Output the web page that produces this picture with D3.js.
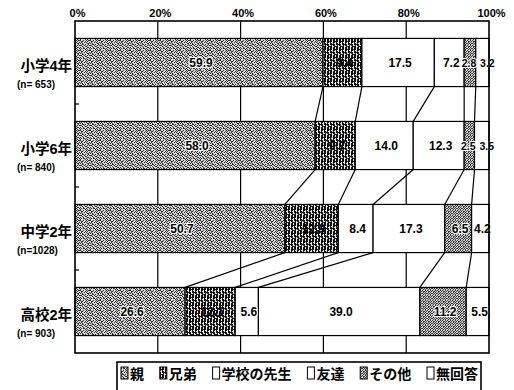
<!DOCTYPE html>
<html>
<head>
<meta charset="utf-8">
<script src="https://cdn.jsdelivr.net/npm/d3@7"></script>
<style>
  body { margin: 0; background: #fff; }
  svg { display: block; }
  text { font-family: "Liberation Sans", "Noto Sans CJK JP", sans-serif; font-weight: bold; }
</style>
</head>
<body>
<script>
// Who children talk to, by school year (% of respondents)
const categories = ["小学4年", "小学6年", "中学2年", "高校2年"];
const sampleSizes = ["(n= 653)", "(n= 840)", "(n=1028)", "(n= 903)"];
const seriesNames = ["親", "兄弟", "学校の先生", "友達", "その他", "無回答"];
const parents  = [59.9, 58.0, 50.7, 26.6];
const siblings = [9.4, 9.7, 12.9, 12.1];
const teachers = [17.5, 14.0, 8.4, 5.6];
const friends  = [7.2, 12.3, 17.3, 39.0];
const others   = [2.8, 2.5, 6.5, 11.2];
const noAnswer = [3.2, 3.5, 4.2, 5.5];
const tickValues = [0, 20, 40, 60, 80, 100];
const tickLabels = ["0%", "20%", "40%", "60%", "80%", "100%"];

const seriesValues = [parents, siblings, teachers, friends, others, noAnswer];
const rows = categories.map((c, i) => {
  const r = { category: c };
  seriesNames.forEach((s, k) => { r[s] = seriesValues[k][i]; });
  return r;
});

const W = 514, H = 390;
const svg = d3.select("body").append("svg").attr("width", W).attr("height", H);
const defs = svg.append("defs");

// bitmap fill patterns ('1' = dark pixel)
function bitmapPattern(id, bitmap, dark, light) {
  const h = bitmap.length, w = bitmap[0].length;
  const p = defs.append("pattern").attr("id", id)
    .attr("patternUnits", "userSpaceOnUse").attr("width", w).attr("height", h);
  p.append("rect").attr("width", w).attr("height", h).attr("fill", light);
  bitmap.forEach((row, yy) => {
    [...row].forEach((ch, xx) => {
      if (ch === "1") p.append("rect").attr("x", xx).attr("y", yy)
        .attr("width", 1).attr("height", 1).attr("fill", dark);
    });
  });
}
bitmapPattern("pat-parent", [
  "1001001011",
  "0110010100",
  "0100101001",
  "1010000110",
  "0011010010",
  "1100100101",
  "0010011000",
  "1001000110",
  "0101101001",
  "1000010100"
], "#303030", "#d8d8d8");
bitmapPattern("pat-sibling", [
  "110110",
  "110111",
  "100110",
  "110100",
  "111110",
  "010110",
  "110011",
  "110110"
], "#111", "#e8e8e8");
bitmapPattern("pat-other", [
  "10100",
  "01011",
  "10010",
  "01101",
  "10010"
], "#3a3a3a", "#d0d0d0");

const fills = {
  "親": "url(#pat-parent)", "兄弟": "url(#pat-sibling)", "学校の先生": "#fff",
  "友達": "#fff", "その他": "url(#pat-other)", "無回答": "#fff"
};

const x = d3.scaleLinear().domain([0, 100]).range([75, 489]);
const y = d3.scaleBand().domain(categories).range([21, 353])
  .paddingInner(0.42).paddingOuter(0.21);
const bw = y.bandwidth();

const stacked = d3.stack().keys(seriesNames)(rows);

// vertical gridlines
svg.append("g").selectAll("line").data(tickValues.slice(1, -1)).join("line")
  .attr("x1", d => x(d)).attr("x2", d => x(d))
  .attr("y1", 21).attr("y2", 353)
  .attr("stroke", "#000").attr("stroke-width", 1.2);

// top percentage axis
const axis = svg.append("g").attr("transform", "translate(0,21)")
  .call(d3.axisTop(x).tickValues(tickValues)
    .tickFormat((d, i) => tickLabels[i]).tickSize(0).tickPadding(4));
axis.select(".domain").remove();
axis.selectAll("text").attr("font-size", 11).attr("dx", 2)
  .attr("font-family", "Liberation Sans, sans-serif").attr("font-weight", "bold");

// series lines joining segment ends of neighbouring bars
const links = [];
for (let k = 0; k < seriesNames.length - 1; k++) {
  for (let i = 0; i < categories.length - 1; i++) {
    links.push({ a: stacked[k][i][1], b: stacked[k][i + 1][1], i });
  }
}
svg.append("g").selectAll("line").data(links).join("line")
  .attr("x1", d => x(d.a)).attr("y1", d => y(categories[d.i]) + bw)
  .attr("x2", d => x(d.b)).attr("y2", d => y(categories[d.i + 1]))
  .attr("stroke", "#000").attr("stroke-width", 1.2);

// stacked segments
const seg = svg.append("g").selectAll("g").data(stacked).join("g")
  .attr("fill", d => fills[d.key]);
seg.selectAll("rect").data(d => d).join("rect")
  .attr("x", d => x(d[0])).attr("width", d => x(d[1]) - x(d[0]))
  .attr("y", d => y(d.data.category)).attr("height", bw)
  .attr("stroke", "#000").attr("stroke-width", 1.2);

// value labels (the narrow trailing segments get smaller, spread-out text)
const segW = d => x(d[1]) - x(d[0]);
const labels = [];
stacked.forEach(s => s.forEach(d => labels.push({ key: s.key, d })));
svg.append("g").selectAll("text").data(labels).join("text")
  .attr("x", o => {
    const mid = (x(o.d[0]) + x(o.d[1])) / 2 + 2;
    if (o.key === "その他" && segW(o.d) < 14) return mid - 3;
    if (o.key === "無回答" && segW(o.d) < 16) return mid + 3;
    return mid;
  })
  .attr("y", o => y(o.d.data.category) + bw / 2 + 4.5)
  .attr("text-anchor", "middle")
  .attr("font-size", o => (segW(o.d) < 16 ? 10.5 : 12))
  .attr("fill", "#000")
  .attr("stroke", o => o.key === "兄弟" ? "none" : "#fff")
  .attr("stroke-width", 2.2).attr("paint-order", "stroke")
  .text(o => (o.d[1] - o.d[0]).toFixed(1));

// category labels
const cat = svg.append("g").selectAll("g").data(categories).join("g");
cat.append("text").attr("x", 72).attr("y", d => y(d) + bw / 2 + 8)
  .attr("text-anchor", "end").attr("font-size", 14.5).text(d => d);
cat.append("text").attr("x", 17).attr("y", d => y(d) + bw / 2 + 25)
  .attr("font-size", 10).text((d, i) => sampleSizes[i]);

// ticks between categories on the left edge
svg.append("g").selectAll("line").data(categories.slice(1)).join("line")
  .attr("x1", 75).attr("x2", 79)
  .attr("y1", d => y(d) - y.step() * y.paddingInner() / 2)
  .attr("y2", d => y(d) - y.step() * y.paddingInner() / 2)
  .attr("stroke", "#000").attr("stroke-width", 1.2);

// plot frame
svg.append("rect").attr("x", 75).attr("y", 21).attr("width", 414).attr("height", 332)
  .attr("fill", "none").attr("stroke", "#000").attr("stroke-width", 1.6);

// legend
const lg = svg.append("g");
lg.append("rect").attr("x", 117).attr("y", 362).attr("width", 364).attr("height", 34)
  .attr("fill", "#fff").attr("stroke", "#000").attr("stroke-width", 1.6);
const items = lg.selectAll("g").data(seriesNames).join("g");
items.append("rect").attr("width", 7).attr("height", 12).attr("y", 367)
  .attr("fill", d => fills[d]).attr("stroke", "#000").attr("stroke-width", 1);
const itxt = items.append("text").attr("y", 379).attr("font-size", 14).text(d => d);
const widths = itxt.nodes().map(n => n.getComputedTextLength());
const swatchW = 7, swGap = 2;
const content = d3.sum(widths) + seriesNames.length * (swatchW + swGap);
const left = 121, right = 478;
const gap = (right - left - content) / (seriesNames.length - 1);
let cx = left;
items.each(function (d, i) {
  const g = d3.select(this);
  g.select("rect").attr("x", cx);
  g.select("text").attr("x", cx + swatchW + swGap);
  cx += swatchW + swGap + widths[i] + gap;
});
</script>
</body>
</html>
